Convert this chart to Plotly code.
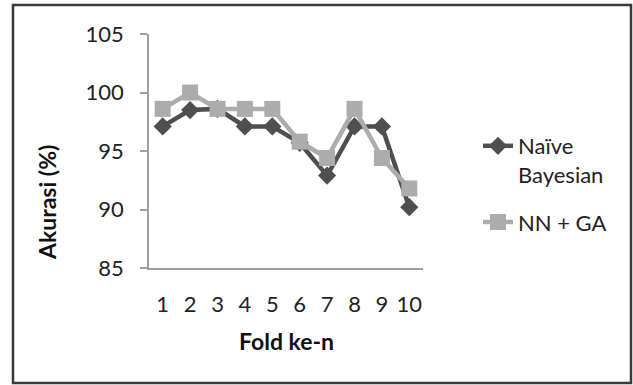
import plotly.graph_objects as go

folds = [1, 2, 3, 4, 5, 6, 7, 8, 9, 10]
fold_labels = ["1", "2", "3", "4", "5", "6", "7", "8", "9", "10"]
naive_bayes = [97.1, 98.5, 98.6, 97.1, 97.1, 95.7, 92.9, 97.1, 97.1, 90.2]
nn_ga = [98.6, 100.0, 98.6, 98.6, 98.6, 95.8, 94.4, 98.6, 94.4, 91.8]
y_ticks = [85, 90, 95, 100, 105]

FONT = "Lato"
DARK = "#4f4f4f"
LIGHT = "#acacac"

W, H = 633, 385
L, R, T, B = 149, 423, 34, 268


def px_x(p):
    return (p - L) / (R - L)


def px_y(p):
    return 1 - (p - T) / (B - T)


fig = go.Figure()
fig.add_trace(go.Scatter(
    x=folds, y=naive_bayes, name="Naïve<br>Bayesian", mode="lines+markers",
    legendgroup="nb",
    line=dict(color=DARK, width=4.5),
    marker=dict(symbol="diamond", size=14, color=DARK),
))
fig.add_trace(go.Scatter(
    x=folds, y=nn_ga, name="NN + GA", mode="lines+markers",
    legendgroup="nn",
    line=dict(color=LIGHT, width=4.5),
    marker=dict(symbol="square", size=16, color=LIGHT),
))

fig.update_layout(
    width=W, height=H,
    margin=dict(l=L, r=W - R, t=T, b=H - B, pad=0, autoexpand=False),
    paper_bgcolor="white", plot_bgcolor="white",
    font=dict(family=FONT, size=22, color="#222222"),
    showlegend=True,
    legend=dict(
        x=px_x(478), y=px_y(125), xanchor="left", yanchor="top",
        font=dict(family=FONT, size=22, color="#222222"),
        valign="top", tracegroupgap=16, bgcolor="rgba(0,0,0,0)",
    ),
    xaxis=dict(
        range=[0.5, 10.5], tickmode="array", tickvals=folds, ticktext=fold_labels,
        showgrid=False, zeroline=False, showline=True, linecolor="#a0a0a0", linewidth=1.5,
        ticks="", ticklabelstandoff=16, tickfont=dict(family=FONT, size=22, color="#222222"),
    ),
    yaxis=dict(
        range=[85, 105], tickmode="array", tickvals=y_ticks,
        showgrid=False, zeroline=False, showline=True, linecolor="#a0a0a0", linewidth=1.5,
        ticks="outside", ticklen=7, tickcolor="#a0a0a0", tickwidth=1.5,
        ticklabelstandoff=12,
        tickfont=dict(family=FONT, size=22, color="#222222"),
    ),
)

# axis titles
fig.add_annotation(text="<b>Fold ke-n</b>", xref="paper", yref="paper",
                   x=px_x(286), y=px_y(341), xanchor="center", yanchor="middle",
                   showarrow=False, font=dict(family=FONT, size=23, color="#111111"))
fig.add_annotation(text="<b>Akurasi (%)</b>", xref="paper", yref="paper",
                   x=px_x(47), y=px_y(203), xanchor="center", yanchor="middle",
                   textangle=-90, showarrow=False, font=dict(family=FONT, size=23, color="#111111"))

# outer frame
fig.add_shape(type="rect", xref="paper", yref="paper",
              x0=px_x(13), x1=px_x(631), y0=px_y(5), y1=px_y(383),
              line=dict(color="#3a3a3a", width=2.5), fillcolor="rgba(0,0,0,0)", layer="below")

fig.write_html("out.html")
